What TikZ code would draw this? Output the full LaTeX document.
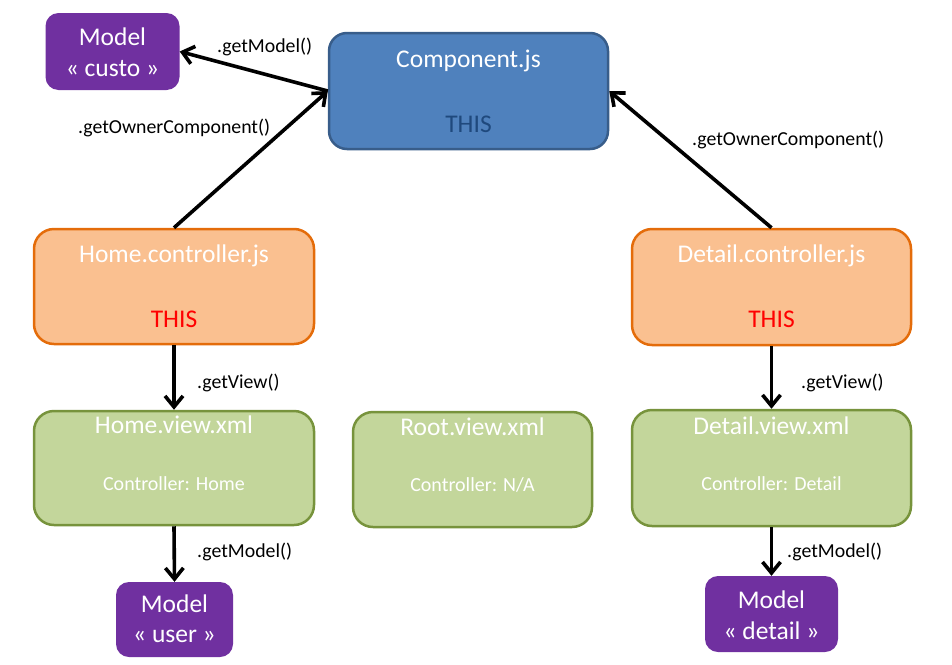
\documentclass[tikz,border=0pt]{standalone}
\usepackage{fontspec}
\setmainfont{Carlito}
\usetikzlibrary{arrows.meta}
\definecolor{mpurple}{HTML}{7030A0}
\definecolor{cblue}{HTML}{4F81BD}
\definecolor{cblueb}{HTML}{385D8A}
\definecolor{cdark}{HTML}{1F497D}
\definecolor{corange}{HTML}{FAC090}
\definecolor{corangeb}{HTML}{E46C0A}
\definecolor{cgreen}{HTML}{C3D69B}
\definecolor{cgreenb}{HTML}{77933C}
\tikzset{
  box/.style={draw, line width=2.5pt, rectangle, inner sep=0pt},
  modelbox/.style={rectangle, fill=mpurple, rounded corners=13pt, inner sep=0pt},
  compbox/.style={box, fill=cblue, draw=cblueb, rounded corners=18pt},
  ctrlbox/.style={box, fill=corange, draw=corangeb, rounded corners=20pt},
  viewbox/.style={box, fill=cgreen, draw=cgreenb, rounded corners=20pt},
  big/.style={font=\fontsize{25.5}{30}\selectfont, inner sep=0pt},
  small/.style={font=\fontsize{20}{24}\selectfont, inner sep=0pt},
  lbl/.style={font=\fontsize{19.8}{24}\selectfont, inner sep=0pt, anchor=west},
  conn/.style={line width=3.6pt, -{Straight Barb[length=11pt,width=18pt]}}
}
\begin{document}
\begin{tikzpicture}[x=1pt,y=-1pt]
\useasboundingbox (0,0) rectangle (952,664);
% boxes
\node[modelbox, minimum width=134pt, minimum height=77pt] (custo) at (112.5,51.5) {};
\node[compbox, minimum width=279pt, minimum height=116pt] (comp) at (468.5,91) {};
\node[ctrlbox, minimum width=280pt, minimum height=115pt] (homec) at (174,286.5) {};
\node[ctrlbox, minimum width=279pt, minimum height=116pt] (detc) at (771.5,287) {};
\node[viewbox, minimum width=280pt, minimum height=114pt] (homev) at (174,468) {};
\node[viewbox, minimum width=239pt, minimum height=115pt] (rootv) at (472.5,469.5) {};
\node[viewbox, minimum width=279pt, minimum height=116pt] (detv) at (771.5,468) {};
\node[modelbox, minimum width=117pt, minimum height=75pt] (user) at (174.5,619.5) {};
\node[modelbox, minimum width=133pt, minimum height=76pt] (detm) at (771.5,614) {};
% texts
\node[big, white] (custo1) at (112.5,37) {Model};
\node[big, white] (custo2) at (112.5,69) {« custo »};
\node[big, white] (comp1) at (468.5,61) {Component.js};
\node[big, cdark] (comp2) at (468.5,124) {THIS};
\node[big, white] (homec1) at (174,256) {Home.controller.js};
\node[big, red] (homec2) at (174,319) {THIS};
\node[big, white] (detc1) at (771.5,256) {Detail.controller.js};
\node[big, red] (detc2) at (771.5,319) {THIS};
\node[big, white] (homev1) at (174,425) {Home.view.xml};
\node[small, white] (homev2) at (174,484) {Controller: Home};
\node[big, white] (rootv1) at (472.5,427) {Root.view.xml};
\node[small, white] (rootv2) at (472.5,485) {Controller: N/A};
\node[big, white] (detv1) at (771.5,426) {Detail.view.xml};
\node[small, white] (detv2) at (771.5,484) {Controller: Detail};
\node[big, white] (user1) at (174.5,604) {Model};
\node[big, white] (user2) at (174.5,636) {« user »};
\node[big, white] (detm1) at (771.5,600) {Model};
\node[big, white] (detm2) at (771.5,631) {« detail »};
% connectors
\draw[conn] (comp.west) -- (custo.east);
\draw[conn] (homec.north) -- (comp.west);
\draw[conn] (detc.north) -- (comp.east);
\draw[conn] (homec.south) -- (homev.north);
\draw[conn] (detc.south) -- (detv.north);
\draw[conn] (homev.south) -- (user.north);
\draw[conn] (detv.south) -- (detm.north);
% labels
\node[lbl] (l1) at (217,47) {.getModel()};
\node[lbl] (l2) at (78,128) {.getOwnerComponent()};
\node[lbl] (l3) at (692,140) {.getOwnerComponent()};
\node[lbl] (l4) at (197,383) {.getView()};
\node[lbl] (l5) at (801,383) {.getView()};
\node[lbl] (l6) at (197,552) {.getModel()};
\node[lbl] (l7) at (787,552) {.getModel()};
\end{tikzpicture}
\end{document}
